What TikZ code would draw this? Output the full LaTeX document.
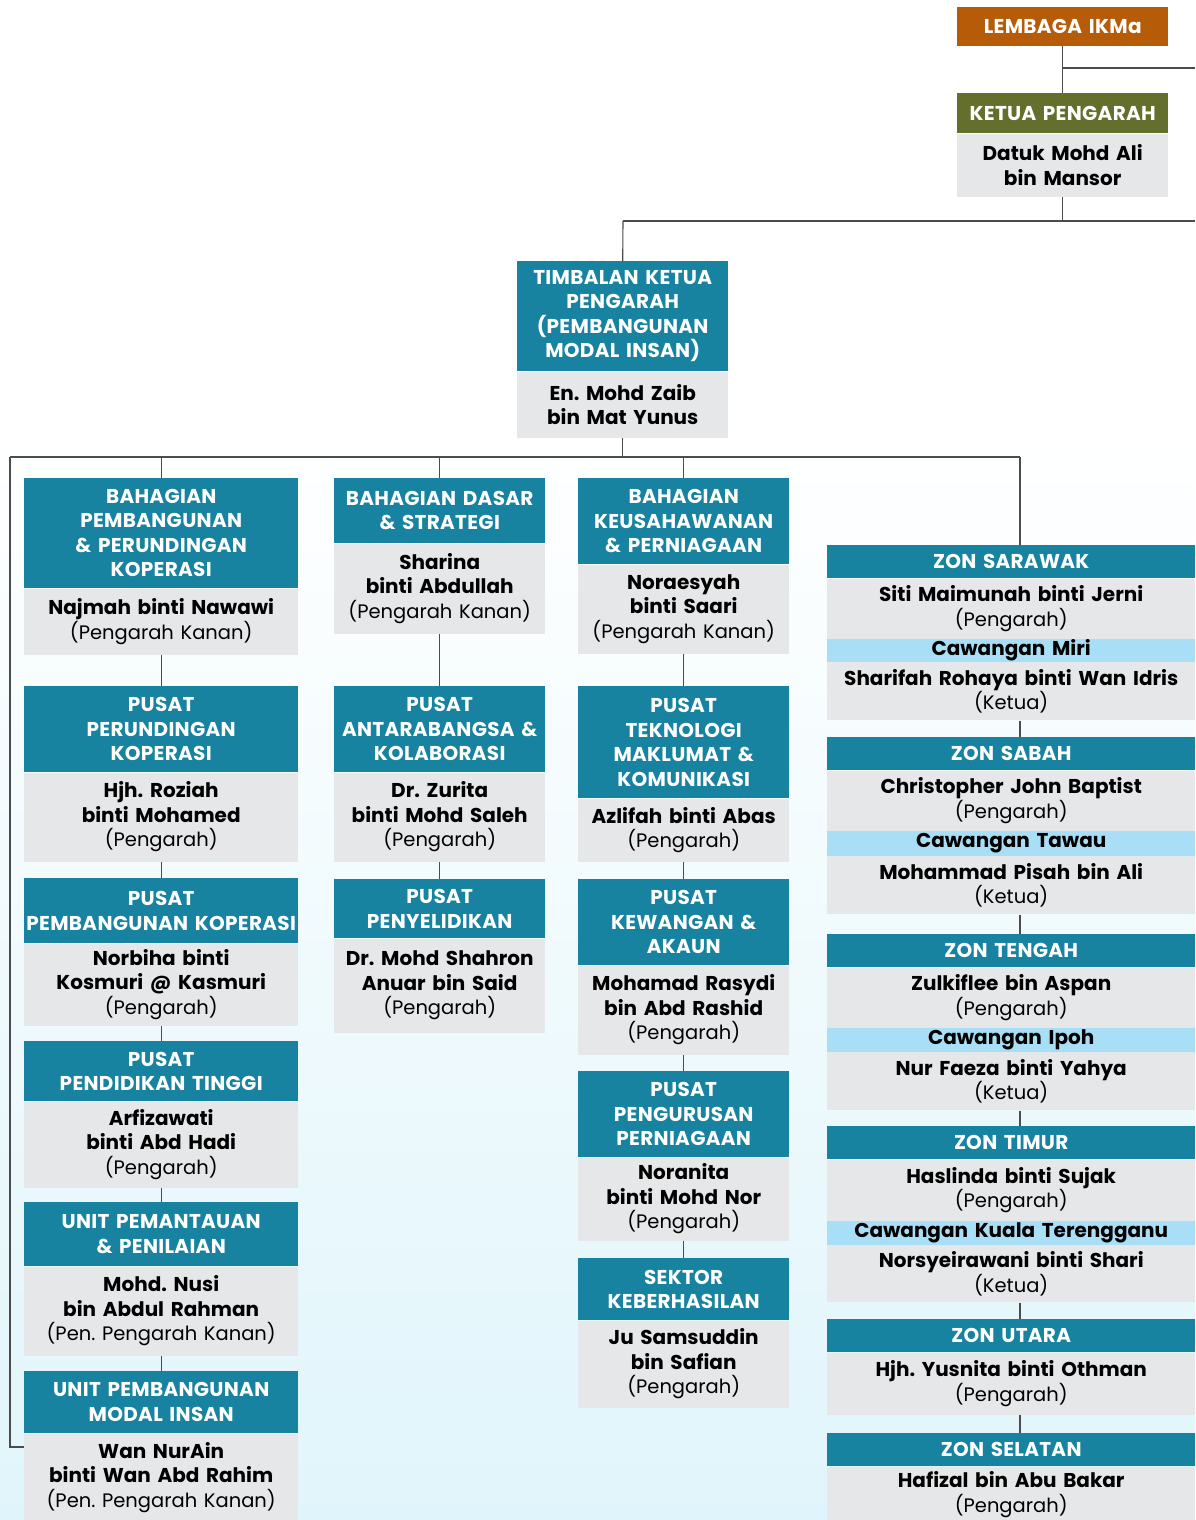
\documentclass[tikz,border=0pt]{standalone}
\usepackage{fontspec}
\setmainfont{Poppins}
\usetikzlibrary{positioning}
\frenchspacing

\definecolor{lemorange}{HTML}{B65C09}
\definecolor{ketgreen}{HTML}{646F2E}
\definecolor{headteal}{HTML}{1783A0}
\definecolor{bodygray}{HTML}{E6E7E9}
\definecolor{bandblue}{HTML}{A9DEF7}
\definecolor{bgblue}{HTML}{E0F5FB}

\newcommand{\role}[1]{{\mdseries\fontsize{19.5}{24.5}\selectfont #1}}

\begin{document}
\begin{tikzpicture}[x=1pt, y=-1pt,
  hd/.style={fill=headteal, text=white, align=center, inner sep=0pt,
    font=\bfseries\fontsize{20}{24.5}\selectfont\addfontfeature{LetterSpace=1.5}},
  bd/.style={fill=bodygray, text=black, align=center, inner sep=0pt,
    font=\bfseries\fontsize{20}{24.5}\selectfont},
  band/.style={bd, fill=bandblue},
  narrow/.style={text width=211pt},
  wide/.style={text width=274pt},
  zone/.style={text width=368pt},
  ln/.style={draw=black!70, line width=1.1pt}]

\useasboundingbox (0,0) rectangle (1195,1520);
% ---------- background ----------
\fill[white] (0,0) rectangle (1195,430);
\shade[top color=white, bottom color=bgblue] (0,430) rectangle (1195,1520);

% ---------- top ----------
\node[hd, fill=lemorange, narrow, minimum height=39pt, anchor=north west] (lem) at (957,7) {LEMBAGA IKMa};
\node[hd, fill=ketgreen, narrow, minimum height=40pt, anchor=north west] (ketH) at (957,93) {KETUA PENGARAH};
\node[bd, narrow, minimum height=63pt, below=0pt of ketH] (ket) {Datuk Mohd Ali\\bin Mansor};

\node[hd, narrow, minimum height=110pt, anchor=north west] (timH) at (517,261) {TIMBALAN KETUA\\PENGARAH\\(PEMBANGUNAN\\MODAL INSAN)};
\node[bd, narrow, minimum height=66pt, below=0pt of timH] (tim) {En. Mohd Zaib\\bin Mat Yunus};

% ---------- column 1 ----------
\node[hd, wide, minimum height=110pt, anchor=north west] (a1h) at (24,478) {BAHAGIAN\\PEMBANGUNAN\\\& PERUNDINGAN\\KOPERASI};
\node[bd, wide, minimum height=66pt, below=0pt of a1h] (a1) {Najmah binti Nawawi\\\role{(Pengarah Kanan)}};
\node[hd, wide, minimum height=86pt, anchor=north west] (a2h) at (24,686) {PUSAT\\PERUNDINGAN\\KOPERASI};
\node[bd, wide, minimum height=89pt, below=0pt of a2h] (a2) {Hjh. Roziah\\binti Mohamed\\\role{(Pengarah)}};
\node[hd, wide, minimum height=65pt, anchor=north west] (a3h) at (24,878) {PUSAT\\PEMBANGUNAN KOPERASI};
\node[bd, wide, minimum height=82pt, below=0pt of a3h] (a3) {Norbiha binti\\Kosmuri @ Kasmuri\\\role{(Pengarah)}};
\node[hd, wide, minimum height=60pt, anchor=north west] (a4h) at (24,1041) {PUSAT\\PENDIDIKAN TINGGI};
\node[bd, wide, minimum height=86pt, below=0pt of a4h] (a4) {Arfizawati\\binti Abd Hadi\\\role{(Pengarah)}};
\node[hd, wide, minimum height=64pt, anchor=north west] (a5h) at (24,1202) {UNIT PEMANTAUAN\\\& PENILAIAN};
\node[bd, wide, minimum height=89pt, below=0pt of a5h] (a5) {Mohd. Nusi\\bin Abdul Rahman\\\role{(Pen. Pengarah Kanan)}};
\node[hd, wide, minimum height=62pt, anchor=north west] (a6h) at (24,1371) {UNIT PEMBANGUNAN\\MODAL INSAN};
\node[bd, wide, minimum height=88pt, below=0pt of a6h] (a6) {Wan NurAin\\binti Wan Abd Rahim\\\role{(Pen. Pengarah Kanan)}};

% ---------- column 2 ----------
\node[hd, narrow, minimum height=65pt, anchor=north west] (b1h) at (334,478) {BAHAGIAN DASAR\\\& STRATEGI};
\node[bd, narrow, minimum height=90pt, below=0pt of b1h] (b1) {Sharina\\binti Abdullah\\\role{(Pengarah Kanan)}};
\node[hd, narrow, minimum height=86pt, anchor=north west] (b2h) at (334,686) {PUSAT\\ANTARABANGSA \&\\KOLABORASI};
\node[bd, narrow, minimum height=89pt, below=0pt of b2h] (b2) {Dr. Zurita\\binti Mohd Saleh\\\role{(Pengarah)}};
\node[hd, narrow, minimum height=59pt, anchor=north west] (b3h) at (334,879) {PUSAT\\PENYELIDIKAN};
\node[bd, narrow, minimum height=94pt, below=0pt of b3h] (b3) {Dr. Mohd Shahron\\Anuar bin Said\\\role{(Pengarah)}};

% ---------- column 3 ----------
\node[hd, narrow, minimum height=86pt, anchor=north west] (c1h) at (578,478) {BAHAGIAN\\KEUSAHAWANAN\\\& PERNIAGAAN};
\node[bd, narrow, minimum height=89pt, below=0pt of c1h] (c1) {Noraesyah\\binti Saari\\\role{(Pengarah Kanan)}};
\node[hd, narrow, minimum height=112pt, anchor=north west] (c2h) at (578,686) {PUSAT\\TEKNOLOGI\\MAKLUMAT \&\\KOMUNIKASI};
\node[bd, narrow, minimum height=63pt, below=0pt of c2h] (c2) {Azlifah binti Abas\\\role{(Pengarah)}};
\node[hd, narrow, minimum height=86pt, anchor=north west] (c3h) at (578,879) {PUSAT\\KEWANGAN \&\\AKAUN};
\node[bd, narrow, minimum height=89pt, below=0pt of c3h] (c3) {Mohamad Rasydi\\bin Abd Rashid\\\role{(Pengarah)}};
\node[hd, narrow, minimum height=86pt, anchor=north west] (c4h) at (578,1071) {PUSAT\\PENGURUSAN\\PERNIAGAAN};
\node[bd, narrow, minimum height=83pt, below=0pt of c4h] (c4) {Noranita\\binti Mohd Nor\\\role{(Pengarah)}};
\node[hd, narrow, minimum height=62pt, anchor=north west] (c5h) at (578,1258) {SEKTOR\\KEBERHASILAN};
\node[bd, narrow, minimum height=87pt, below=0pt of c5h] (c5) {Ju Samsuddin\\bin Safian\\\role{(Pengarah)}};

% ---------- column 4: zones ----------
\node[hd, zone, minimum height=33pt, anchor=north west] (d1h) at (827,545) {ZON SARAWAK};
\node[bd, zone, minimum height=60pt, below=0pt of d1h] (d1) {Siti Maimunah binti Jerni\\\role{(Pengarah)}};
\node[band, zone, minimum height=23pt, below=0pt of d1] (d1c) {Cawangan Miri};
\node[bd, zone, minimum height=58pt, below=0pt of d1c] (d1k) {Sharifah Rohaya binti Wan Idris\\\role{(Ketua)}};

\node[hd, zone, minimum height=33pt, anchor=north west] (d2h) at (827,737) {ZON SABAH};
\node[bd, zone, minimum height=60pt, below=0pt of d2h] (d2) {Christopher John Baptist\\\role{(Pengarah)}};
\node[band, zone, minimum height=25pt, below=0pt of d2] (d2c) {Cawangan Tawau};
\node[bd, zone, minimum height=58pt, below=0pt of d2c] (d2k) {Mohammad Pisah bin Ali\\\role{(Ketua)}};

\node[hd, zone, minimum height=33pt, anchor=north west] (d3h) at (827,934) {ZON TENGAH};
\node[bd, zone, minimum height=60pt, below=0pt of d3h] (d3) {Zulkiflee bin Aspan\\\role{(Pengarah)}};
\node[band, zone, minimum height=24pt, below=0pt of d3] (d3c) {Cawangan Ipoh};
\node[bd, zone, minimum height=58pt, below=0pt of d3c] (d3k) {Nur Faeza binti Yahya\\\role{(Ketua)}};

\node[hd, zone, minimum height=33pt, anchor=north west] (d4h) at (827,1126) {ZON TIMUR};
\node[bd, zone, minimum height=61pt, below=0pt of d4h] (d4) {Haslinda binti Sujak\\\role{(Pengarah)}};
\node[band, zone, minimum height=24pt, below=0pt of d4] (d4c) {Cawangan Kuala Terengganu};
\node[bd, zone, minimum height=57pt, below=0pt of d4c] (d4k) {Norsyeirawani binti Shari\\\role{(Ketua)}};

\node[hd, zone, minimum height=33pt, anchor=north west] (d5h) at (827,1319) {ZON UTARA};
\node[bd, zone, minimum height=62pt, below=0pt of d5h] (d5) {Hjh. Yusnita binti Othman\\\role{(Pengarah)}};

\node[hd, zone, minimum height=33pt, anchor=north west] (d6h) at (827,1433) {ZON SELATAN};
\node[bd, zone, minimum height=56pt, below=0pt of d6h] (d6) {Hafizal bin Abu Bakar\\\role{(Pengarah)}};

% ---------- connectors ----------
\coordinate (lemR) at (1195,68);
\coordinate (tbus) at (623,221);
\coordinate (tbusR) at (1195,221);
\coordinate (busL) at (10,457);
\coordinate (busR) at (1020,457);
\coordinate (elbow) at (10,1447);

\draw[ln] (lem.south) -- (ketH.north);
\draw[ln] (lem.south |- lemR) -- (lemR);
\draw[ln] (ket.south) -- (ket.south |- tbus);
\draw[ln] (tbus) -- (tbusR);
\draw[ln] (tbus) -- (timH.north);

\draw[ln] (tim.south) -- (tim.south |- busL);
\draw[ln] (busL) -- (busR);
\draw[ln] (busR) -- (d1h.north -| busR);
\foreach \n in {a1h,b1h,c1h}
  \draw[ln] (\n.north |- busL) -- (\n.north);
\draw[ln] (busL) -- (elbow) -- (elbow -| a6.west);

% column links
\draw[ln] (a1.south) -- (a2h.north);
\draw[ln] (a2.south) -- (a3h.north);
\draw[ln] (a3.south) -- (a4h.north);
\draw[ln] (a4.south) -- (a5h.north);
\draw[ln] (a5.south) -- (a6h.north);

\draw[ln] (b1.south) -- (b2h.north);
\draw[ln] (b2.south) -- (b3h.north);

\draw[ln] (c1.south) -- (c2h.north);
\draw[ln] (c2.south) -- (c3h.north);
\draw[ln] (c3.south) -- (c4h.north);
\draw[ln] (c4.south) -- (c5h.north);

\draw[ln] (d1k.south -| busR) -- (d2h.north -| busR);
\draw[ln] (d2k.south -| busR) -- (d3h.north -| busR);
\draw[ln] (d3k.south -| busR) -- (d4h.north -| busR);
\draw[ln] (d4k.south -| busR) -- (d5h.north -| busR);
\draw[ln] (d5.south -| busR) -- (d6h.north -| busR);

\end{tikzpicture}
\end{document}
